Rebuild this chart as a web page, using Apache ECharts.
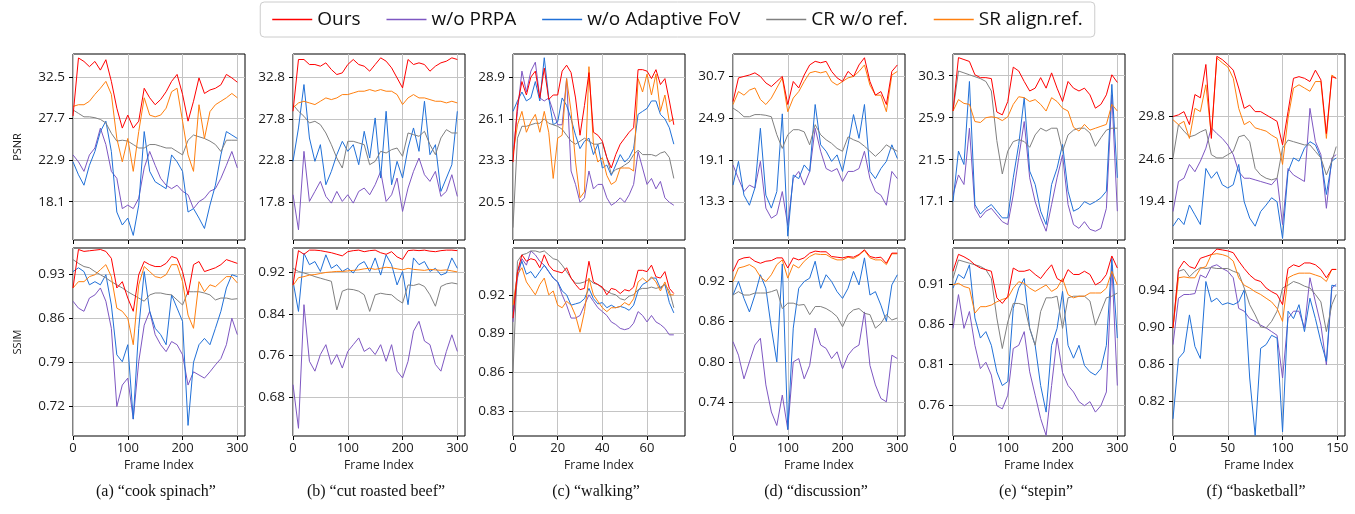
<!DOCTYPE html>
<html>
<head>
<meta charset="utf-8">
<script src="https://cdn.jsdelivr.net/npm/echarts@6/dist/echarts.min.js"></script>
<style>
  html, body { margin: 0; padding: 0; background: #ffffff; }
  #chart { width: 1355px; height: 514px; }
</style>
</head>
<body>
<div id="chart"></div>
<script>
// ---------- method names (legend order) ----------
const METHODS = ['Ours', 'w/o PRPA', 'w/o Adaptive FoV', 'CR w/o ref.', 'SR align.ref.'];

// ---------- frame indices sampled per sequence ----------
const FRAMES_300 = [0,10,20,30,40,50,60,70,80,90,100,110,120,130,140,150,160,170,180,190,200,210,220,230,240,250,260,270,280,290,300];
const FRAMES_WALK = [0,2,4,6,8,10,12,14,16,18,20,22,24,26,28,30,32,34,36,38,40,42,44,46,48,50,52,54,56,58,60,62,64,66,68,70,72];
const FRAMES_BASKET = [0,5,10,15,20,25,30,35,40,45,50,55,60,65,70,75,80,85,90,95,100,105,110,115,120,125,130,135,140,145,149];

// ---------- (a) cook spinach ----------
const A_PSNR_OURS = [28.0,34.7,34.3,33.7,34.3,33.3,34.5,32.0,28.9,26.6,28.1,26.6,27.4,31.2,30.1,29.3,29.9,30.8,32.0,32.8,30.5,27.4,29.7,32.4,30.6,31.0,31.2,31.6,32.8,32.4,31.9];
const A_PSNR_PRPA = [23.5,22.7,21.6,23.5,24.3,26.6,24.7,21.6,20.8,17.3,17.7,17.3,18.5,22.0,23.9,22.3,20.8,20.0,19.6,20.0,19.3,18.9,17.3,18.1,18.5,19.3,19.6,20.8,22.3,23.9,22.0];
const A_PSNR_FOV  = [22.7,21.2,20.0,22.3,23.9,26.2,27.4,23.9,16.9,15.4,16.2,14.2,17.7,26.2,21.6,20.4,20.0,19.6,23.5,22.7,21.6,16.9,17.3,16.2,15.0,17.7,20.0,23.5,26.2,25.8,25.4];
const A_PSNR_CR   = [28.7,28.3,27.9,27.9,27.8,27.6,27.2,26.0,25.1,25.2,25.1,24.7,24.3,24.3,24.7,24.7,24.5,24.3,24.3,23.9,23.5,25.2,25.8,25.6,25.4,25.1,24.7,23.9,25.2,25.2,25.2];
const A_PSNR_SR   = [29.1,29.3,29.3,29.7,30.5,31.2,32.0,30.5,25.4,22.7,25.4,21.6,26.2,30.1,28.1,27.9,28.1,28.9,30.8,31.2,27.4,23.5,21.6,29.3,25.4,28.5,29.3,29.7,30.1,30.6,30.1];
const A_SSIM_OURS = [0.908,0.969,0.966,0.967,0.968,0.969,0.966,0.955,0.908,0.918,0.892,0.871,0.929,0.950,0.945,0.942,0.942,0.947,0.958,0.955,0.934,0.897,0.945,0.950,0.934,0.937,0.940,0.945,0.953,0.950,0.947];
const A_SSIM_PRPA = [0.887,0.876,0.871,0.892,0.897,0.908,0.887,0.844,0.720,0.754,0.765,0.700,0.791,0.849,0.871,0.834,0.818,0.807,0.823,0.818,0.802,0.754,0.775,0.770,0.765,0.775,0.786,0.796,0.818,0.860,0.834];
const A_SSIM_FOV  = [0.934,0.940,0.934,0.913,0.918,0.913,0.929,0.881,0.802,0.791,0.818,0.700,0.844,0.934,0.871,0.844,0.834,0.818,0.897,0.876,0.855,0.690,0.790,0.818,0.828,0.818,0.844,0.871,0.908,0.929,0.926];
const A_SSIM_CR   = [0.953,0.947,0.942,0.940,0.934,0.929,0.924,0.918,0.913,0.908,0.902,0.897,0.892,0.887,0.897,0.900,0.900,0.898,0.897,0.889,0.881,0.902,0.902,0.902,0.900,0.897,0.889,0.892,0.892,0.890,0.891];
const A_SSIM_SR   = [0.908,0.918,0.918,0.926,0.929,0.937,0.945,0.926,0.876,0.871,0.860,0.818,0.913,0.942,0.934,0.926,0.924,0.929,0.945,0.945,0.918,0.865,0.844,0.918,0.902,0.913,0.910,0.918,0.926,0.926,0.916];

// ---------- (b) cut roasted beef ----------
const B_PSNR_OURS = [28.7,34.9,34.9,34.3,34.3,34.1,34.5,33.7,33.1,33.3,34.3,34.9,34.3,34.1,33.5,34.3,35.1,34.7,33.9,32.7,31.5,34.9,34.3,34.5,34.3,33.5,34.1,34.5,34.7,35.1,34.9];
const B_PSNR_PRPA = [18.7,14.5,23.9,17.9,19.1,20.3,18.5,17.7,19.1,17.9,18.7,17.7,19.1,19.5,18.7,19.9,21.5,17.9,18.7,20.7,16.7,19.5,21.5,23.1,21.1,20.3,21.5,18.5,19.1,21.1,18.5];
const B_PSNR_FOV  = [22.7,26.7,31.9,25.5,22.7,24.7,19.9,21.5,23.5,25.1,23.9,24.7,22.3,26.3,23.1,27.9,20.7,28.7,19.9,22.7,20.7,24.3,26.7,23.9,29.9,23.5,24.7,19.1,20.7,22.3,28.7];
const B_PSNR_CR   = [29.5,28.7,28.1,27.3,27.5,27.1,26.1,24.7,23.1,21.9,25.1,25.1,24.9,24.7,22.3,22.7,23.9,23.7,24.1,24.3,23.3,26.1,25.9,25.7,26.3,24.7,23.5,25.5,26.5,26.1,26.1];
const B_PSNR_SR   = [29.1,29.7,29.9,29.7,29.5,29.9,30.3,30.1,30.3,30.7,30.7,30.9,31.1,31.1,31.3,31.1,31.3,31.1,31.1,30.7,29.5,30.3,30.7,30.3,30.3,30.1,29.9,29.9,29.7,29.9,29.7];
const B_SSIM_OURS = [0.896,0.962,0.955,0.963,0.963,0.962,0.960,0.958,0.955,0.952,0.960,0.962,0.963,0.960,0.962,0.963,0.958,0.955,0.960,0.950,0.945,0.962,0.963,0.962,0.963,0.961,0.960,0.962,0.963,0.963,0.962];
const B_SSIM_PRPA = [0.704,0.620,0.858,0.749,0.730,0.762,0.781,0.743,0.762,0.736,0.768,0.781,0.794,0.768,0.775,0.762,0.781,0.749,0.781,0.730,0.717,0.749,0.807,0.826,0.788,0.781,0.743,0.730,0.768,0.800,0.768];
const B_SSIM_FOV  = [0.903,0.845,0.957,0.935,0.941,0.922,0.954,0.928,0.935,0.922,0.928,0.919,0.935,0.941,0.922,0.948,0.915,0.954,0.935,0.896,0.922,0.858,0.948,0.935,0.941,0.922,0.928,0.915,0.919,0.948,0.928];
const B_SSIM_CR   = [0.928,0.922,0.919,0.916,0.912,0.909,0.906,0.903,0.848,0.884,0.888,0.887,0.884,0.877,0.845,0.877,0.880,0.878,0.877,0.868,0.861,0.896,0.895,0.898,0.893,0.877,0.855,0.893,0.898,0.900,0.898];
const B_SSIM_SR   = [0.895,0.910,0.912,0.915,0.916,0.918,0.920,0.921,0.922,0.922,0.923,0.924,0.925,0.927,0.928,0.926,0.928,0.930,0.929,0.927,0.925,0.928,0.926,0.925,0.924,0.926,0.925,0.924,0.925,0.923,0.921];

// ---------- (c) walking ----------
const C_PSNR_OURS = [23.2,27.0,28.6,27.7,28.9,29.3,27.5,29.5,27.4,27.7,27.7,29.3,29.7,29.2,27.5,25.0,27.0,29.2,25.2,25.0,24.6,23.5,22.8,23.7,24.4,24.8,25.2,25.5,29.4,29.4,29.3,28.8,29.4,28.4,28.8,27.3,25.7];
const C_PSNR_PRPA = [23.7,26.6,29.3,27.9,29.3,29.9,27.5,27.3,27.5,26.6,25.7,25.7,28.8,22.6,21.7,20.5,20.8,22.6,21.4,21.7,21.7,20.8,20.3,20.5,20.8,20.5,21.0,21.7,23.9,22.8,21.7,22.1,21.4,21.9,20.8,20.5,20.3];
const C_PSNR_FOV  = [26.6,27.3,27.9,27.3,27.5,28.6,27.3,30.2,27.5,25.7,25.9,27.5,27.0,26.1,25.0,24.1,24.6,24.8,23.7,24.4,22.8,23.0,22.3,23.0,23.7,23.2,23.5,24.1,26.4,26.6,26.8,27.3,27.3,26.4,26.1,25.5,24.4];
const C_PSNR_CR   = [18.8,24.8,25.6,25.6,25.7,25.8,25.8,26.1,25.8,25.7,25.6,25.4,25.0,24.6,24.4,24.6,24.8,24.6,24.4,24.4,24.5,23.5,22.4,22.7,22.8,23.0,23.2,23.7,24.0,23.7,23.7,23.7,23.6,23.8,23.9,23.5,22.1];
const C_PSNR_SR   = [23.7,25.7,26.6,25.2,25.9,26.4,25.2,26.6,25.2,22.1,24.8,25.0,28.8,26.6,23.2,20.8,21.2,29.6,24.4,23.2,23.5,22.3,21.7,21.9,22.8,22.8,22.8,22.6,28.8,27.9,29.1,27.7,29.1,26.6,27.7,25.9,26.1];
const C_SSIM_OURS = [0.902,0.938,0.951,0.946,0.948,0.947,0.941,0.951,0.943,0.939,0.938,0.937,0.941,0.933,0.928,0.924,0.925,0.946,0.930,0.928,0.926,0.920,0.925,0.924,0.921,0.924,0.923,0.926,0.939,0.939,0.938,0.943,0.934,0.933,0.938,0.925,0.921];
const C_SSIM_PRPA = [0.899,0.933,0.948,0.943,0.954,0.951,0.946,0.943,0.938,0.933,0.930,0.920,0.912,0.902,0.902,0.904,0.912,0.920,0.915,0.910,0.907,0.904,0.899,0.897,0.894,0.893,0.894,0.898,0.907,0.904,0.899,0.904,0.899,0.897,0.894,0.889,0.889];
const C_SSIM_FOV  = [0.907,0.938,0.946,0.936,0.938,0.933,0.938,0.943,0.938,0.933,0.930,0.923,0.920,0.912,0.913,0.914,0.917,0.925,0.917,0.913,0.914,0.910,0.912,0.910,0.911,0.910,0.908,0.912,0.923,0.928,0.930,0.933,0.933,0.925,0.928,0.914,0.906];
const C_SSIM_CR   = [0.860,0.946,0.951,0.952,0.954,0.954,0.953,0.954,0.951,0.948,0.947,0.943,0.938,0.933,0.929,0.929,0.930,0.932,0.929,0.928,0.925,0.923,0.921,0.920,0.917,0.916,0.919,0.920,0.924,0.925,0.925,0.926,0.925,0.926,0.928,0.923,0.910];
const C_SSIM_SR   = [0.912,0.936,0.941,0.930,0.925,0.920,0.928,0.933,0.920,0.923,0.912,0.910,0.915,0.912,0.904,0.891,0.907,0.933,0.920,0.915,0.910,0.907,0.910,0.910,0.911,0.914,0.912,0.917,0.930,0.933,0.930,0.934,0.930,0.923,0.930,0.920,0.920];

// ---------- (d) discussion ----------
const D_PSNR_OURS = [27.2,30.5,30.7,30.9,31.2,30.7,29.8,29.3,30.0,30.7,26.8,30.0,29.1,30.9,32.3,32.8,32.6,32.8,31.4,30.5,30.0,31.4,30.7,32.3,33.3,30.0,28.1,28.6,26.8,31.4,32.3];
const D_PSNR_PRPA = [18.4,16.5,14.7,15.6,15.2,18.9,12.4,11.0,11.5,14.7,10.0,16.5,17.5,15.6,17.5,23.5,20.3,17.9,17.5,17.9,16.1,17.5,17.5,17.9,20.3,16.5,14.7,14.2,12.8,17.5,16.5];
const D_PSNR_FOV  = [15.6,18.9,14.2,12.8,15.2,23.5,14.2,12.4,14.7,25.5,8.5,17.0,16.5,18.4,17.5,26.8,21.2,20.3,18.9,19.8,17.5,21.2,25.4,22.1,26.8,17.5,16.5,17.9,18.9,21.2,19.3];
const D_PSNR_CR   = [26.3,25.8,25.1,25.1,25.4,25.4,25.3,25.1,22.6,20.7,22.6,23.3,23.3,23.0,21.2,24.0,22.6,21.9,21.4,20.7,20.3,22.3,21.9,21.6,21.0,20.3,19.6,20.3,21.2,20.7,20.3];
const D_PSNR_SR   = [26.8,28.6,28.1,28.8,29.1,27.5,26.8,27.7,29.1,30.5,25.8,27.7,28.6,30.0,31.2,31.4,31.2,31.4,30.0,29.5,30.0,30.5,30.7,31.4,32.3,29.5,28.1,28.1,25.8,30.9,31.4];
const D_SSIM_OURS = [0.934,0.951,0.954,0.955,0.949,0.946,0.949,0.950,0.954,0.954,0.939,0.954,0.951,0.954,0.961,0.964,0.963,0.963,0.956,0.955,0.954,0.956,0.955,0.959,0.966,0.956,0.954,0.955,0.946,0.961,0.961];
const D_SSIM_PRPA = [0.830,0.810,0.775,0.800,0.825,0.835,0.766,0.726,0.706,0.751,0.700,0.800,0.805,0.775,0.795,0.850,0.825,0.820,0.805,0.815,0.790,0.810,0.820,0.825,0.874,0.795,0.766,0.746,0.741,0.810,0.805];
const D_SSIM_FOV  = [0.899,0.919,0.894,0.874,0.899,0.929,0.909,0.850,0.800,0.945,0.700,0.850,0.909,0.919,0.924,0.949,0.909,0.929,0.919,0.904,0.894,0.909,0.934,0.914,0.954,0.899,0.904,0.884,0.860,0.914,0.929];
const D_SSIM_CR   = [0.899,0.904,0.899,0.899,0.902,0.902,0.902,0.904,0.907,0.879,0.887,0.887,0.884,0.885,0.870,0.882,0.882,0.879,0.874,0.867,0.852,0.870,0.877,0.879,0.872,0.870,0.850,0.857,0.870,0.862,0.865];
const D_SSIM_SR   = [0.919,0.939,0.941,0.944,0.939,0.926,0.919,0.929,0.944,0.951,0.924,0.944,0.939,0.949,0.956,0.960,0.959,0.959,0.954,0.951,0.951,0.955,0.953,0.958,0.965,0.954,0.951,0.951,0.944,0.960,0.960];

// ---------- (e) stepin ----------
const E_PSNR_OURS = [26.6,32.2,32.0,31.8,30.4,30.1,30.1,30.0,26.5,26.2,27.6,31.2,30.8,29.7,28.7,29.0,30.1,29.0,30.6,29.0,27.6,29.7,29.0,28.7,29.0,28.3,26.9,27.3,28.3,30.4,29.6];
const E_PSNR_PRPA = [17.8,19.9,18.9,24.8,16.4,15.4,16.1,16.4,15.7,15.0,14.7,17.8,21.7,25.5,19.6,17.1,15.4,14.0,16.8,19.6,22.0,16.8,14.7,14.3,15.0,14.2,14.0,14.3,16.4,28.3,16.1];
const E_PSNR_FOV  = [17.1,22.4,21.0,29.7,16.8,15.8,16.4,16.8,16.1,15.4,15.4,19.6,23.1,28.0,20.3,18.9,16.1,14.7,18.9,20.6,23.1,18.2,16.1,16.4,17.1,16.8,17.1,17.5,18.2,29.4,19.6];
const E_PSNR_CR   = [26.6,30.8,30.6,30.4,30.2,30.0,29.7,28.7,23.5,20.0,22.4,23.4,23.6,23.4,22.8,24.1,24.8,24.5,24.8,24.8,22.4,24.1,24.6,24.8,24.8,24.3,22.9,23.8,24.6,24.8,24.8];
const E_PSNR_SR   = [26.6,27.8,27.4,27.3,25.5,25.4,25.9,26.0,25.9,25.6,26.0,27.3,28.1,28.0,27.6,27.8,27.3,26.6,28.0,27.6,26.9,26.6,24.9,24.5,25.2,24.6,24.8,25.0,25.2,27.3,26.6];
const E_SSIM_OURS = [0.926,0.947,0.944,0.940,0.934,0.930,0.928,0.926,0.893,0.886,0.895,0.930,0.926,0.926,0.928,0.922,0.917,0.926,0.934,0.917,0.913,0.928,0.922,0.922,0.926,0.922,0.909,0.913,0.922,0.945,0.930];
const E_SSIM_PRPA = [0.855,0.897,0.855,0.876,0.834,0.805,0.813,0.797,0.759,0.755,0.772,0.830,0.834,0.851,0.801,0.772,0.743,0.722,0.784,0.843,0.800,0.784,0.776,0.764,0.759,0.764,0.751,0.759,0.776,0.934,0.784];
const E_SSIM_FOV  = [0.905,0.922,0.917,0.934,0.868,0.843,0.851,0.834,0.801,0.784,0.789,0.880,0.905,0.917,0.855,0.834,0.784,0.751,0.834,0.855,0.901,0.834,0.818,0.834,0.809,0.801,0.797,0.805,0.834,0.942,0.843];
const E_SSIM_CR   = [0.917,0.940,0.938,0.936,0.934,0.932,0.928,0.917,0.868,0.830,0.863,0.886,0.886,0.884,0.855,0.834,0.876,0.893,0.893,0.895,0.855,0.893,0.895,0.895,0.895,0.889,0.859,0.876,0.893,0.895,0.899];
const E_SSIM_SR   = [0.909,0.911,0.907,0.905,0.874,0.882,0.882,0.884,0.888,0.891,0.893,0.905,0.913,0.911,0.905,0.901,0.905,0.909,0.901,0.905,0.917,0.897,0.893,0.895,0.895,0.899,0.899,0.899,0.905,0.926,0.909];

// ---------- (f) basketball ----------
const F_PSNR_OURS = [29.8,30.0,30.4,28.8,32.5,32.1,36.2,27.1,37.2,36.8,36.2,35.5,33.3,30.8,31.2,30.4,30.4,30.0,29.6,29.2,26.3,30.4,34.5,34.7,34.5,34.1,35.5,34.3,27.7,34.7,34.5];
const F_PSNR_PRPA = [18.1,21.8,22.2,23.9,23.0,24.3,25.9,28.4,27.7,27.1,26.3,25.1,23.0,22.2,22.2,22.0,21.8,21.6,21.4,22.2,16.5,23.4,22.6,22.2,21.8,30.8,26.7,25.1,18.5,24.7,25.1];
const F_PSNR_FOV  = [16.3,17.3,16.5,18.9,17.7,16.5,23.4,22.2,23.0,21.4,21.0,21.4,23.9,19.3,17.3,16.3,18.1,18.9,19.8,19.3,14.8,23.0,24.7,24.3,25.9,26.7,26.3,24.7,20.2,24.3,24.7];
const F_PSNR_CR   = [24.7,28.8,28.0,27.3,27.5,27.9,28.2,25.1,24.7,24.7,25.1,25.5,27.3,27.5,26.7,23.4,22.6,22.2,22.0,22.2,25.9,26.9,26.7,26.5,26.3,26.3,25.5,24.7,22.6,24.3,26.1];
const F_PSNR_SR   = [29.4,28.8,29.2,27.1,30.8,30.4,33.7,27.5,37.0,36.4,35.9,34.5,30.8,28.8,29.2,28.4,28.2,28.0,27.5,27.1,23.9,29.6,33.3,33.7,33.3,32.9,34.1,34.1,27.1,34.9,34.5];
const F_SSIM_OURS = [0.899,0.962,0.971,0.965,0.963,0.974,0.976,0.978,0.984,0.983,0.982,0.980,0.971,0.963,0.956,0.951,0.949,0.942,0.938,0.935,0.924,0.963,0.967,0.965,0.969,0.969,0.967,0.962,0.953,0.962,0.962];
const F_SSIM_PRPA = [0.881,0.931,0.935,0.935,0.936,0.956,0.953,0.965,0.967,0.963,0.960,0.953,0.920,0.917,0.909,0.906,0.902,0.899,0.895,0.891,0.845,0.909,0.917,0.917,0.899,0.953,0.927,0.902,0.859,0.942,0.946];
const F_SSIM_FOV  = [0.801,0.866,0.873,0.913,0.879,0.866,0.949,0.927,0.931,0.924,0.926,0.924,0.927,0.940,0.845,0.783,0.877,0.881,0.891,0.888,0.787,0.917,0.909,0.924,0.895,0.931,0.909,0.884,0.863,0.945,0.944];
const F_SSIM_CR   = [0.899,0.960,0.962,0.954,0.960,0.964,0.963,0.964,0.963,0.963,0.963,0.960,0.958,0.942,0.924,0.913,0.900,0.899,0.906,0.917,0.942,0.945,0.949,0.947,0.944,0.942,0.935,0.927,0.895,0.924,0.935];
const F_SSIM_SR   = [0.899,0.953,0.954,0.953,0.953,0.963,0.965,0.978,0.979,0.978,0.976,0.971,0.953,0.945,0.942,0.938,0.935,0.931,0.927,0.920,0.906,0.953,0.956,0.958,0.958,0.958,0.956,0.954,0.949,0.962,0.962];

// ---------- axis ranges and tick labels ----------
const X_TICKS_300 = [0,100,200,300];
const X_TICKS_WALK = [0,20,40,60];
const X_TICKS_BASKET = [0,50,100,150];
const PSNR_TICKS = {
  a: [18.1,22.9,27.7,32.5], b: [17.8,22.8,27.8,32.8], c: [20.5,23.3,26.1,28.9],
  d: [13.3,19.1,24.9,30.7], e: [17.1,21.5,25.9,30.3], f: [19.4,24.6,29.8]
};
const SSIM_TICKS = {
  a: [0.72,0.79,0.86,0.93], b: [0.68,0.76,0.84,0.92], c: [0.83,0.86,0.89,0.92],
  d: [0.74,0.80,0.86,0.92], e: [0.76,0.81,0.86,0.91], f: [0.82,0.86,0.90,0.94]
};
const PSNR_RANGE = { a:[13.67,35.16], b:[13.28,35.56], c:[17.97,30.45], d:[7.97,33.82], e:[13.08,32.58], f:[14.6,37.49] };
const SSIM_RANGE = { a:[0.6732,0.9714], b:[0.6052,0.9671], c:[0.8106,0.9563], d:[0.6904,0.9686], e:[0.7213,0.9549], f:[0.7825,0.9851] };
const CAPTIONS = ['(a) \u201ccook spinach\u201d', '(b) \u201ccut roasted beef\u201d', '(c) \u201cwalking\u201d',
                  '(d) \u201cdiscussion\u201d', '(e) \u201cstepin\u201d', '(f) \u201cbasketball\u201d'];

const COLORS = {
  'Ours': '#ff0000',
  'w/o PRPA': '#7e57c2',
  'w/o Adaptive FoV': '#2070d8',
  'CR w/o ref.': '#808080',
  'SR align.ref.': '#ff7f0e'
};

const PANELS = [
  { key:'a', frames:FRAMES_300, xMax:314, xTicks:X_TICKS_300,
    psnr:[A_PSNR_OURS,A_PSNR_PRPA,A_PSNR_FOV,A_PSNR_CR,A_PSNR_SR],
    ssim:[A_SSIM_OURS,A_SSIM_PRPA,A_SSIM_FOV,A_SSIM_CR,A_SSIM_SR] },
  { key:'b', frames:FRAMES_300, xMax:314, xTicks:X_TICKS_300,
    psnr:[B_PSNR_OURS,B_PSNR_PRPA,B_PSNR_FOV,B_PSNR_CR,B_PSNR_SR],
    ssim:[B_SSIM_OURS,B_SSIM_PRPA,B_SSIM_FOV,B_SSIM_CR,B_SSIM_SR] },
  { key:'c', frames:FRAMES_WALK, xMax:77, xTicks:X_TICKS_WALK,
    psnr:[C_PSNR_OURS,C_PSNR_PRPA,C_PSNR_FOV,C_PSNR_CR,C_PSNR_SR],
    ssim:[C_SSIM_OURS,C_SSIM_PRPA,C_SSIM_FOV,C_SSIM_CR,C_SSIM_SR] },
  { key:'d', frames:FRAMES_300, xMax:314, xTicks:X_TICKS_300,
    psnr:[D_PSNR_OURS,D_PSNR_PRPA,D_PSNR_FOV,D_PSNR_CR,D_PSNR_SR],
    ssim:[D_SSIM_OURS,D_SSIM_PRPA,D_SSIM_FOV,D_SSIM_CR,D_SSIM_SR] },
  { key:'e', frames:FRAMES_300, xMax:314, xTicks:X_TICKS_300,
    psnr:[E_PSNR_OURS,E_PSNR_PRPA,E_PSNR_FOV,E_PSNR_CR,E_PSNR_SR],
    ssim:[E_SSIM_OURS,E_SSIM_PRPA,E_SSIM_FOV,E_SSIM_CR,E_SSIM_SR] },
  { key:'f', frames:FRAMES_BASKET, xMax:157, xTicks:X_TICKS_BASKET,
    psnr:[F_PSNR_OURS,F_PSNR_PRPA,F_PSNR_FOV,F_PSNR_CR,F_PSNR_SR],
    ssim:[F_SSIM_OURS,F_SSIM_PRPA,F_SSIM_FOV,F_SSIM_CR,F_SSIM_SR] }
];

// ---------- layout ----------
const FONT = '"Open Sans", Lato, "DejaVu Sans", sans-serif';
const PANEL_LEFT0 = 73, PANEL_STEP = 220, PANEL_W = 172;
const ROWS = [ { top: 54, height: 186 }, { top: 248, height: 188 } ];
// draw order: baselines first, Ours on top
const DRAW_ORDER = [1, 2, 3, 4, 0];

const grids = [], xAxes = [], yAxes = [], series = [], graphics = [];

PANELS.forEach((p, i) => {
  const left = PANEL_LEFT0 + PANEL_STEP * i;
  [0, 1].forEach(row => {
    const gi = grids.length;
    const isPsnr = row === 0;
    grids.push({
      left: left, width: PANEL_W, top: ROWS[row].top, height: ROWS[row].height,
      show: true, borderColor: '#000', borderWidth: 1, backgroundColor: 'transparent', containLabel: false
    });
    xAxes.push({
      type: 'value', gridIndex: gi, min: 0, max: p.xMax,
      axisLine: { show: false },
      axisTick: { show: true, length: 4, lineStyle: { color: '#000', width: 1 }, customValues: p.xTicks },
      axisLabel: { show: !isPsnr, customValues: p.xTicks, color: '#1a1a1a', fontSize: 13, fontFamily: FONT, margin: 6 },
      splitLine: { show: true, lineStyle: { color: '#c4c4c4', width: 1 } },
      name: isPsnr ? '' : 'Frame Index', nameLocation: 'middle', nameGap: 24,
      nameTextStyle: { color: '#1a1a1a', fontSize: 12, fontFamily: FONT }
    });
    const ticks = isPsnr ? PSNR_TICKS[p.key] : SSIM_TICKS[p.key];
    const range = isPsnr ? PSNR_RANGE[p.key] : SSIM_RANGE[p.key];
    const digits = isPsnr ? 1 : 2;
    yAxes.push({
      type: 'value', gridIndex: gi, min: range[0], max: range[1],
      axisLine: { show: false },
      axisTick: { show: true, length: 4, lineStyle: { color: '#000', width: 1 }, customValues: ticks },
      axisLabel: { customValues: ticks, color: '#1a1a1a', fontSize: 13.5, fontFamily: FONT, margin: 8,
                   formatter: v => Number(v).toFixed(digits) },
      splitLine: { show: true, lineStyle: { color: '#c4c4c4', width: 1 } }
    });
    const sets = isPsnr ? p.psnr : p.ssim;
    DRAW_ORDER.forEach(m => {
      const name = METHODS[m];
      series.push({
        type: 'line', name: name, xAxisIndex: gi, yAxisIndex: gi,
        data: p.frames.map((f, k) => [f, sets[m][k]]),
        symbol: 'none', smooth: false, animation: false,
        lineStyle: { color: COLORS[name], width: 1 },
        itemStyle: { color: COLORS[name] },
        z: m === 0 ? 4 : 3
      });
    });
  });
  graphics.push({
    type: 'text', x: left + PANEL_W / 2 - 3, y: 492,
    style: { text: CAPTIONS[i], fill: '#111', font: '16px "Liberation Serif", "DejaVu Serif", serif',
             textAlign: 'center', textVerticalAlign: 'middle' }
  });
});

// row titles on the left of the first column
graphics.push({
  type: 'text', x: 18, y: 147, rotation: Math.PI / 2,
  style: { text: 'PSNR', fill: '#1a1a1a', font: '11px ' + FONT, textAlign: 'center', textVerticalAlign: 'middle' }
});
graphics.push({
  type: 'text', x: 18, y: 342, rotation: Math.PI / 2,
  style: { text: 'SSIM', fill: '#1a1a1a', font: '11px ' + FONT, textAlign: 'center', textVerticalAlign: 'middle' }
});

const chart = echarts.init(document.getElementById('chart'), null, { renderer: 'canvas' });
chart.setOption({
  animation: false,
  backgroundColor: '#ffffff',
  legend: {
    data: METHODS, top: 2, left: 'center',
    icon: 'rect', itemWidth: 40, itemHeight: 1.5, itemGap: 26,
    textStyle: { fontSize: 19, fontFamily: FONT, color: '#111' },
    borderColor: '#cccccc', borderWidth: 1, borderRadius: 4, padding: [8, 12]
  },
  grid: grids, xAxis: xAxes, yAxis: yAxes, series: series, graphic: graphics
});
</script>
</body>
</html>
